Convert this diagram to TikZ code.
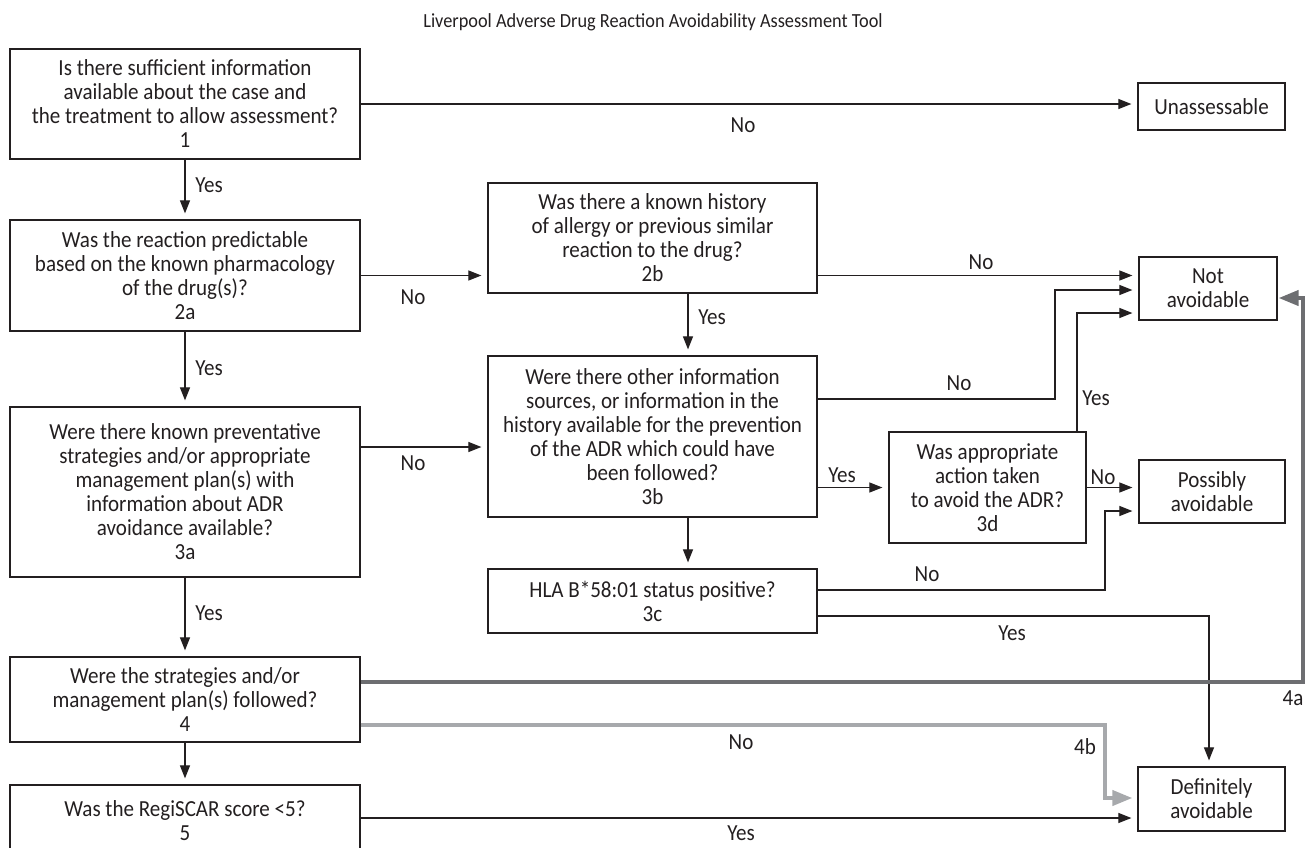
\documentclass[tikz,border=0pt]{standalone}
\usepackage{fontspec}
\setmainfont{Carlito}[FakeStretch=0.915]
\usetikzlibrary{arrows.meta}
\definecolor{ink}{HTML}{231F20}
\definecolor{darkg}{HTML}{6D6E71}
\definecolor{lightg}{HTML}{A7A9AC}
\newcommand{\bfs}{\fontsize{23}{24}\selectfont}
\begin{document}
\begin{tikzpicture}[x=1pt,y=-1pt,
  box/.style={draw=ink, line width=1.2pt, text=ink, align=center, inner sep=0pt, font=\bfs},
  lbl/.style={text=ink, inner sep=0pt, font=\bfs},
  arr/.style={draw=ink, line width=1.1pt, -{Triangle[length=13pt,width=10pt]}, shorten >=6pt},
  arrA/.style={draw=darkg, line width=4pt, -{Triangle[length=20pt,width=15pt]}, shorten >=1pt},
  arrB/.style={draw=lightg, line width=4pt, -{Triangle[length=20pt,width=15pt]}, shorten >=5pt}]
\useasboundingbox (0,0) rectangle (1307,847);
\node[lbl, font=\fontsize{20}{24}\selectfont] (title) at (653,22) {Liverpool Adverse Drug Reaction Avoidability Assessment Tool};
% left column
\node[box, minimum width=350pt, minimum height=110pt] (b1) at (185,104) {Is there sufficient information\\available about the case and\\the treatment to allow assessment?\\1};
\node[box, minimum width=350pt, minimum height=111pt] (b2a) at (185,275.5) {Was the reaction predictable\\based on the known pharmacology\\of the drug(s)?\\2a};
\node[box, minimum width=350pt, minimum height=170pt] (b3a) at (185,492) {Were there known preventative\\strategies and/or appropriate\\management plan(s) with\\information about ADR\\avoidance available?\\3a};
\node[box, minimum width=350pt, minimum height=85pt] (b4) at (185,699.5) {Were the strategies and/or\\management plan(s) followed?\\4};
\node[box, minimum width=350pt, minimum height=72pt] (b5) at (185,821) {Was the RegiSCAR score <5?\\5};
% middle column
\node[box, minimum width=329pt, minimum height=110pt] (b2b) at (652.5,238) {Was there a known history\\of allergy or previous similar\\reaction to the drug?\\2b};
\node[box, minimum width=329pt, minimum height=161pt] (b3b) at (652.5,436.5) {Were there other information\\sources, or information in the\\history available for the prevention\\of the ADR which could have\\been followed?\\3b};
\node[box, minimum width=329pt, minimum height=64pt] (b3c) at (652.5,601) {HLA B*58:01 status positive?\\3c};
\node[box, minimum width=197pt, minimum height=111pt] (b3d) at (987.5,487.5) {Was appropriate\\action taken\\to avoid the ADR?\\3d};
% outcomes
\node[box, minimum width=147pt, minimum height=47pt] (bU) at (1211.5,106.5) {Unassessable};
\node[box, minimum width=138pt, minimum height=63pt] (bN) at (1208,288.5) {Not\\avoidable};
\node[box, minimum width=146pt, minimum height=63pt] (bP) at (1212,491.5) {Possibly\\avoidable};
\node[box, minimum width=147pt, minimum height=64pt] (bD) at (1211.5,799) {Definitely\\avoidable};
% helper coordinates
\coordinate (v688) at (688,0);
\coordinate (h399) at (0,399);
\coordinate (h447) at (0,447);
\coordinate (h590) at (0,590);
\coordinate (h682) at (0,682);
\coordinate (h725) at (0,725);
\coordinate (h818) at (0,818);
\coordinate (k3b) at (1055,290);
\coordinate (k3d) at (1077,313);
\coordinate (k3c) at (1105,511);
\coordinate (k3cD) at (1209,616);
\coordinate (k4a) at (1303,298);
\coordinate (k4b) at (1105,798);
% left column arrows
\draw[arr] (b1.south) -- (b2a.north);
\draw[arr] (b2a.south) -- (b3a.north);
\draw[arr] (b3a.south) -- (b4.north);
\draw[arr] (b4.south) -- (b5.north);
\draw[arr] (b1.east) -- (b1.east -| bU.west);
\draw[arr] (b2a.east) -- (b2a.east -| b2b.west);
\draw[arr] (b3a.east |- h447) -- (h447 -| b3b.west);
\draw[arr] (b5.east |- h818) -- (h818 -| bD.west);
% middle arrows
\draw[arr] (v688 |- b2b.south) -- (v688 |- b3b.north);
\draw[arr] (v688 |- b3b.south) -- (v688 |- b3c.north);
\draw[arr] (b2b.east |- b2a.east) -- (b2a.east -| bN.west);
\draw[arr] (b3b.east |- h399) -| (k3b) -- (k3b -| bN.west);
\draw[arr] (b3b.east |- b3d.east) -- (b3d.west);
\draw[arr] (k3d |- b3d.north) -- (k3d) -- (k3d -| bN.west);
\draw[arr] (b3d.east) -- (b3d.east -| bP.west);
\draw[arr] (b3c.east |- h590) -| (k3c) -- (k3c -| bP.west);
\draw[arr] (b3c.east |- k3cD) -- (k3cD) -- (k3cD |- bD.north);
% 4a / 4b
\draw[arrA] (b4.east |- h682) -| (k4a) -- (k4a -| bN.east);
\draw[arrB] (b4.east |- h725) -| (k4b) -- (k4b -| bD.west);
% labels
\node[lbl] (lNo1) at (743,125) {No};
\node[lbl] (lYes1) at (209,185) {Yes};
\node[lbl] (lNo2a) at (413,297) {No};
\node[lbl] (lYes2a) at (209,368) {Yes};
\node[lbl] (lNo3a) at (413,463) {No};
\node[lbl] (lYes3a) at (209,613) {Yes};
\node[lbl] (lYes2b) at (712,317) {Yes};
\node[lbl] (lNo2b) at (981,262) {No};
\node[lbl] (lNo3b) at (959,383) {No};
\node[lbl] (lYes3b) at (842,475) {Yes};
\node[lbl] (lNo3d) at (1103,477) {No};
\node[lbl] (lYes3d) at (1096,398) {Yes};
\node[lbl] (lNo3c) at (927,574) {No};
\node[lbl] (lYes3c) at (1012,633) {Yes};
\node[lbl] (l4a) at (1293,698) {4a};
\node[lbl] (l4b) at (1085,747) {4b};
\node[lbl] (lNo4) at (741,742) {No};
\node[lbl] (lYes5) at (741,833) {Yes};
\end{tikzpicture}
\end{document}
